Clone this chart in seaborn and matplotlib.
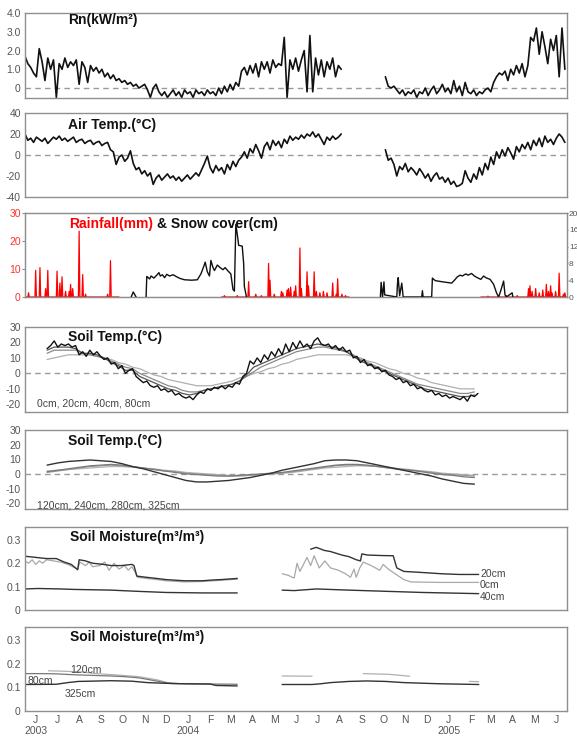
import numpy as np
import pandas as pd
import matplotlib
matplotlib.use("Agg")
import matplotlib.pyplot as plt
import matplotlib.dates as mdates
import seaborn as sns

sns.set_style("white")
plt.rcParams["font.family"] = ["Liberation Sans", "DejaVu Sans"]
plt.rcParams["axes.unicode_minus"] = False

START = pd.Timestamp("2003-06-01")
END = pd.Timestamp("2005-07-01")

# --------------------------------------------------
# data (day = days since 2003-06-01)
# --------------------------------------------------
# net radiation, one value every 4 days
rn_a_first, rn_b_first = 0, 506
rn_a = [1.7, 1.3, 1.1, 0.8, 0.6, 2.1, 1.4, 0.4, 1.6, 1.0,
        1.5, -0.5, 1.3, 1.0, 1.6, 1.1, 1.4, 1.2, 1.5, 0.2,
        1.4, 1.1, 0.3, 1.2, 0.9, 1.1, 0.8, 1.0, 0.6, 0.8,
        0.5, 0.7, 0.4, 0.5, 0.3, 0.4, 0.2, 0.3, 0.1, 0.2,
        0.0, 0.1, 0.2, -0.1, -0.5, 0.0, 0.2, -0.2, -0.4, -0.2,
        -0.5, -0.3, -0.1, -0.4, -0.2, -0.5, -0.1, -0.3, -0.2, -0.5,
        -0.1, -0.3, -0.2, -0.4, -0.1, -0.3, -0.2, -0.4, 0.0, -0.3,
        0.1, -0.2, 0.2, -0.1, 0.3, 0.1, 0.9, 1.1, 0.7, 1.2,
        0.8, 1.3, 0.6, 1.4, 1.0, 1.4, 0.8, 1.5, 1.1, 1.3,
        1.2, 2.7, -0.5, 1.5, 1.0, 1.6, 0.9, 1.5, 2.0, -0.2,
        2.8, -0.2, 1.6, 0.7, 1.5, 0.6, 1.4, 1.0, 1.6, 0.6,
        1.2, 1.0]
rn_b = [0.6, 0.1, 0.0, 0.1, -0.1, -0.3, -0.1, -0.4, -0.2, -0.3,
        -0.1, -0.5, -0.2, -0.3, 0.0, -0.4, -0.1, 0.1, -0.3, -0.1,
        0.2, -0.2, 0.0, -0.3, 0.4, -0.2, 0.1, -0.4, 0.3, -0.2,
        -0.3, -0.1, -0.4, -0.2, -0.3, -0.1, 0.0, -0.2, 0.3, 0.6,
        0.8, 0.7, 0.9, 0.4, 1.0, 0.7, 1.2, 0.8, 1.3, 0.6,
        1.2, 2.7, 2.5, 3.2, 1.8, 3.0, 2.2, 1.3, 2.6, 2.0,
        2.8, 0.6, 3.2, 1.0]

# air temperature, every 4 days
air_a = [20, 14, 16, 12, 17, 15, 13, 16, 11, 14,
         17, 15, 18, 14, 16, 13, 15, 17, 12, 14,
         15, 11, 13, 14, 10, 12, 13, 9, 11, 12,
         5, 3, -9, -2, 0, -6, -3, 4, -8, -14,
         -12, -18, -15, -20, -17, -28, -22, -19, -24, -21,
         -18, -22, -20, -24, -21, -25, -22, -19, -23, -20,
         -17, -20, -14, -8, -1, -12, -17, -10, -15, -12,
         -18, -9, -14, -6, -11, -5, -2, 3, -3, 6,
         2, 10, 4, -3, 8, 12, 5, 14, 9, 13,
         7, 15, 11, 18, 14, 17, 15, 19, 16, 20,
         18, 22, 17, 20, 15, 10, 17, 14, 18, 15, 17, 20]
air_b = [5, -5, -3, -9, -20, -11, -14, -8, -16, -12,
         -15, -19, -13, -17, -22, -18, -25, -20, -17, -23,
         -21, -26, -22, -28, -25, -30, -29, -27, -15, -22,
         -26, -18, -23, -12, -19, -8, -14, -2, -9, 3,
         -3, 5, -1, 7, 2, -4, 8, 3, 10, 6,
         12, 5, 14, 9, 16, 8, 18, 12, 15, 10,
         16, 20, 17, 12]

# rainfall (mm): daily, zero except the read spikes
rain_periods = [(0, 132), (276, 455), (640, 760)]
rain_day = [5, 15, 21, 29, 32, 45, 49, 52, 57, 62, 64, 67, 76, 81, 85, 116, 120,
            280, 298, 314, 324, 332, 342, 344, 350, 360, 362, 368, 370, 373, 378,
            380, 386, 388, 396, 398, 406, 409, 414, 419, 424, 432, 437, 439, 445, 450,
            650, 676, 691, 707, 709, 712, 717, 722, 727, 732, 735, 738, 740, 745,
            750, 756, 758]
rain_mm = [1.5, 9.5, 10.5, 3, 9.5, 9.2, 5, 7.2, 2, 2, 4.5, 3, 23.5, 8, 1, 1, 13,
           0.5, 0.5, 5.5, 1, 0.5, 12, 6, 1, 2, 1.5, 2.5, 3, 3.5, 2,
           4, 17.5, 3, 9, 4, 9, 2, 1.5, 2, 1.5, 5, 1, 6.5, 1, 0.5,
           0.3, 0.5, 0.5, 3, 4, 2, 3, 1.5, 2.5, 4.5, 2, 4, 1.5, 2,
           8.5, 1, 1.5]

# snow cover (cm)
snow_a = [(149, 0), (152, 1.2), (156, 0)]
snow_b = [(170, 0), (171, 4.9), (175, 4.3), (177, 5), (181, 4.5), (185, 5.2), (188, 5.8),
          (190, 5), (193, 5.3), (196, 4.6), (199, 5.4), (203, 5), (208, 5.3), (213, 4.8),
          (218, 4.4), (224, 4.1), (234, 4), (242, 4.1), (247, 5.5), (251, 7.3), (253, 8.3),
          (256, 6), (259, 5), (261, 8.7), (264, 7), (266, 6.3), (270, 7.6), (274, 7),
          (278, 6.5), (281, 7), (285, 6.2), (289, 5.5), (292, 1.8), (294, 1.4), (296, 17.3),
          (298, 15), (300, 12.3), (305, 12.1), (307, 8), (308, 2.5), (311, 0)]
snow_c = [(499, 0), (500, 3.5), (502, 0), (504, 3.6), (505, 0.5), (522, 0), (523, 3.2),
          (524, 4.6), (526, 0.3), (529, 3.3), (531, 0), (557, 0), (558, 1.5), (559, 0),
          (571, 0), (572, 4.5), (576, 3.9), (583, 3.7), (591, 3.5), (599, 3.3), (603, 4),
          (607, 4.8), (611, 5.2), (614, 5), (619, 5.5), (622, 5.2), (627, 5.6), (631, 5),
          (635, 4.6), (640, 4.2), (644, 5), (647, 4.6), (653, 4.2), (658, 3), (662, 1),
          (665, 0), (668, 1.5), (672, 3.8), (674, 0.5), (676, 0), (684, 1), (685, 0)]

# soil temperature 0-80 cm (0 cm every 5 days, others every 10 days from day 31)
st_first = 31
st_0 = [16, 18, 21, 17, 19, 18, 19, 17, 18, 12,
        14, 11, 15, 12, 14, 11, 9, 10, 6, 7,
        3, 5, 0, 2, 3, -2, -4, -6, -5, -8,
        -9, -8, -11, -10, -12, -11, -14, -13, -15, -16,
        -15, -17, -14, -12, -13, -10, -11, -9, -10, -8,
        -10, -8, -9, -6, -7, -2, 0, 8, 6, 10,
        7, 12, 9, 14, 11, 16, 12, 19, 14, 20,
        16, 21, 17, 19, 16, 21, 23, 19, 18, 19,
        16, 18, 15, 17, 14, 15, 10, 11, 7, 9,
        5, 6, 3, 4, 1, 2, -1, -2, -4, -3,
        -6, -5, -8, -7, -10, -9, -11, -12, -11, -14,
        -13, -15, -14, -16, -15, -16, -17, -15, -18, -14,
        -15, -13]
st_20 = [15, 17, 17, 17, 16, 13, 13, 12, 10, 7,
         5, 2, 2, -2, -4, -6, -8, -10, -11, -13,
         -14, -13, -11, -10, -9, -8, -7, -5, -1, 4,
         6, 8, 10, 12, 14, 16, 17, 18, 19, 18,
         17, 16, 14, 11, 8, 6, 4, 2, 0, -2,
         -4, -6, -8, -10, -11, -12, -13, -14, -15, -15, -14]
st_40 = [13, 15, 15, 15, 15, 13, 12, 11, 10, 8,
         6, 4, 3, 0, -2, -4, -6, -8, -9, -11,
         -12, -12, -11, -10, -9, -8, -7, -5, -2, 1,
         4, 6, 8, 10, 12, 14, 15, 16, 17, 17,
         16, 15, 14, 12, 9, 7, 5, 3, 1, -1,
         -3, -5, -7, -8, -9, -10, -11, -12, -13, -13, -12]
st_80 = [9, 10, 11, 12, 12, 12, 12, 11, 10, 9,
         7, 6, 4, 3, 1, -1, -2, -4, -5, -6,
         -7, -8, -8, -8, -7, -6, -5, -3, -2, 0,
         1, 3, 4, 6, 7, 9, 10, 11, 12, 12,
         12, 12, 12, 11, 10, 8, 7, 5, 3, 2,
         0, -1, -3, -4, -6, -7, -8, -9, -10, -10, -10]

# deep soil temperature, every 15 days from day 31
st_120 = [6, 7.5, 8.5, 9, 9.5, 9, 8.5, 7, 5, 3.5,
          1.5, -0.5, -2.5, -4.5, -5.5, -5.5, -5, -4.5, -3.5, -2.5,
          -1, 0.5, 2.5, 4, 5.5, 7, 9, 9.5, 9.5, 9,
          7.5, 6, 4.5, 3, 1.5, 0, -1.5, -3.5, -5, -6.5, -7]
st_240 = [1.5, 2.5, 3.5, 4.5, 5.5, 6, 6.5, 6, 5, 4,
          3, 2, 1, 0, -0.5, -1, -1.5, -1.5, -1, -0.5,
          0, 0.5, 1, 2, 3, 4, 5, 6, 6.5, 6.5,
          6, 5, 4, 3, 2.5, 1.5, 0.5, -0.5, -1, -2, -2.5]
st_280 = [1, 2, 3, 4, 5, 5.5, 6, 5.5, 5, 4,
          3, 2, 1.5, 0.5, 0, -0.5, -1, -1.5, -1.5, -1,
          -0.5, 0, 0.5, 1.5, 2.5, 3.5, 4.5, 5.5, 6, 6,
          5.5, 5, 4, 3.5, 2.5, 2, 1, 0, -0.5, -1, -1.5]
st_325 = [2, 2.5, 3, 3.5, 4, 4.5, 5, 5, 4.5, 4,
          3.5, 2.5, 2, 1, 0.5, 0, -0.5, -1, -1, -1,
          -0.5, 0, 0.5, 1, 2, 3, 4, 4.5, 5, 5.5,
          5.5, 5, 4.5, 3.5, 3, 2, 1.5, 0.5, 0, -0.5, -1]

# soil moisture (m3/m3), (day, value)
sm20_a = [(0, 0.23), (15, 0.225), (30, 0.22), (44, 0.22), (55, 0.205), (65, 0.195),
          (74, 0.172), (76, 0.215), (85, 0.21), (95, 0.2), (110, 0.195), (121, 0.19),
          (135, 0.19), (150, 0.195), (153, 0.19), (157, 0.145), (170, 0.14), (185, 0.135),
          (198, 0.13), (224, 0.125), (249, 0.125), (262, 0.128), (275, 0.13), (298, 0.135)]
sm0_a = [(0, 0.21), (5, 0.2), (10, 0.215), (15, 0.195), (20, 0.21), (25, 0.2), (30, 0.215),
         (40, 0.21), (50, 0.205), (60, 0.195), (74, 0.175), (77, 0.205), (85, 0.19),
         (90, 0.205), (95, 0.185), (105, 0.19), (112, 0.205), (118, 0.17), (125, 0.2),
         (132, 0.175), (140, 0.19), (145, 0.17), (150, 0.185), (155, 0.16), (158, 0.14),
         (170, 0.135), (185, 0.13), (198, 0.125), (224, 0.12), (249, 0.122), (275, 0.127),
         (298, 0.132)]
sm40_a = [(0, 0.09), (18, 0.092), (50, 0.09), (69, 0.088), (121, 0.085), (157, 0.08),
          (198, 0.075), (250, 0.073), (298, 0.073)]
sm20_b = [(401, 0.26), (409, 0.268), (420, 0.255), (429, 0.25), (445, 0.235), (455, 0.228),
          (465, 0.215), (471, 0.21), (473, 0.24), (481, 0.235), (500, 0.233), (517, 0.232),
          (522, 0.18), (532, 0.165), (560, 0.16), (585, 0.155), (610, 0.152), (637, 0.152)]
sm0_b = [(361, 0.155), (370, 0.148), (375, 0.14), (378, 0.137), (382, 0.2), (386, 0.165),
         (396, 0.225), (401, 0.19), (406, 0.232), (413, 0.18), (421, 0.21), (429, 0.18),
         (440, 0.17), (450, 0.155), (457, 0.14), (462, 0.175), (465, 0.14), (470, 0.18),
         (475, 0.205), (486, 0.19), (498, 0.17), (503, 0.195), (510, 0.175), (522, 0.15),
         (532, 0.13), (542, 0.12), (580, 0.118), (637, 0.118)]
sm40_b = [(361, 0.085), (378, 0.083), (409, 0.09), (455, 0.085), (506, 0.08), (558, 0.075),
          (637, 0.07)]

sm80_a = [(0, 0.158), (20, 0.158), (44, 0.157), (70, 0.153), (100, 0.15), (121, 0.148),
          (141, 0.145), (160, 0.14), (175, 0.132), (193, 0.122), (205, 0.116), (230, 0.115),
          (298, 0.113)]
sm120_a = [(33, 0.17), (55, 0.168), (80, 0.165), (100, 0.158), (130, 0.152), (160, 0.145),
           (185, 0.132), (200, 0.12), (215, 0.116)]
sm120_b = [(361, 0.148), (403, 0.147)]
sm120_c = [(475, 0.158), (511, 0.155), (540, 0.147)]
sm120_d = [(624, 0.125), (637, 0.124)]
sm325_a = [(0, 0.112), (44, 0.113), (60, 0.12), (75, 0.125), (121, 0.128), (150, 0.126),
           (172, 0.12), (198, 0.117), (224, 0.115), (260, 0.114), (268, 0.108), (298, 0.106)]
sm325_b = [(361, 0.112), (403, 0.112), (415, 0.115), (429, 0.12), (455, 0.125), (480, 0.127),
           (506, 0.125), (532, 0.12), (583, 0.115), (637, 0.112)]

month_letters = ["J", "J", "A", "S", "O", "N", "D", "J", "F", "M", "A", "M", "J",
                 "J", "A", "S", "O", "N", "D", "J", "F", "M", "A", "M", "J"]
year_labels = {0: "2003", 7: "2004", 19: "2005"}


def stepped(first_day, step, values):
    days = first_day + step * np.arange(len(values))
    return pd.DataFrame({"date": START + pd.to_timedelta(days, unit="D"), "v": values})


def paired(pairs):
    d = pd.DataFrame(pairs, columns=["day", "v"])
    d["date"] = START + pd.to_timedelta(d["day"], unit="D")
    return d


def line(ax, df, color, lw=1.0):
    sns.lineplot(data=df, x="date", y="v", ax=ax, color=color, linewidth=lw,
                 estimator=None, legend=False)


W, H = 577, 737
fig = plt.figure(figsize=(W / 100, H / 100), dpi=100)
boxes = [(13, 98), (113, 197), (213, 297), (327, 412), (430, 509), (527, 610), (627, 711)]
axes = [fig.add_axes([25 / W, 1 - b / H, 542 / W, (b - t) / H]) for t, b in boxes]

FRAME = "#8f8f8f"
TICKC = "#555555"


def ftext(x, y, s, **kw):
    return fig.text(x / W, 1 - y / H, s, **kw)


# 1. Rn
ax = axes[0]
line(ax, stepped(rn_a_first, 4, rn_a), "#111111", 1.2)
line(ax, stepped(rn_b_first, 4, rn_b), "#111111", 1.2)
ax.set_ylim(-0.53, 4.0)
ax.set_yticks([0, 1, 2, 3, 4])
ax.set_yticklabels(["0", "1.0", "2.0", "3.0", "4.0"])

# 2. air temperature
ax = axes[1]
line(ax, stepped(rn_a_first, 4, air_a), "#111111", 1.2)
line(ax, stepped(rn_b_first, 4, air_b), "#111111", 1.2)
ax.set_ylim(-40, 40)
ax.set_yticks([-40, -20, 0, 20, 40])

# 3. rainfall & snow
ax = axes[2]
rain = pd.Series(rain_mm, index=rain_day)
for a, b in rain_periods:
    days = np.arange(a, b + 1)
    vals = rain.reindex(days).fillna(0).to_numpy()
    line(ax, pd.DataFrame({"date": START + pd.to_timedelta(days, unit="D"), "v": vals}),
         "#ff0000", 0.9)
ax.set_ylim(0, 30)
ax.set_yticks([0, 10, 20, 30])
ax.tick_params(axis="y", labelcolor="#ff3030")
axr = ax.twinx()
for seg in (snow_a, snow_b, snow_c):
    line(axr, paired(seg), "#111111", 1.0)
axr.set_ylim(0, 20)
axr.set_yticks([0, 4, 8, 12, 16, 20])
axr.set_ylabel("")
axr.tick_params(axis="y", direction="out", length=1, labelsize=6, labelcolor=TICKC,
                color=FRAME, pad=0.5)
for s in axr.spines.values():
    s.set_color(FRAME)

# 4. soil temperature 0-80 cm
ax = axes[3]
line(ax, stepped(st_first, 10, st_80), "#b0b0b0", 0.9)
line(ax, stepped(st_first, 10, st_40), "#8a8a8a", 0.9)
line(ax, stepped(st_first, 10, st_20), "#555555", 0.9)
line(ax, stepped(st_first, 5, st_0), "#111111", 1.0)
ax.set_ylim(-25, 30)
ax.set_yticks([-20, -10, 0, 10, 20, 30])

# 5. deep soil temperature
ax = axes[4]
line(ax, stepped(st_first, 15, st_325), "#b5b5b5", 0.9)
line(ax, stepped(st_first, 15, st_280), "#9a9a9a", 0.9)
line(ax, stepped(st_first, 15, st_240), "#7a7a7a", 0.9)
line(ax, stepped(st_first, 15, st_120), "#333333", 1.0)
ax.set_ylim(-24, 30)
ax.set_yticks([-20, -10, 0, 10, 20, 30])

# 6. soil moisture 0-40 cm
ax = axes[5]
for seg in (sm0_a, sm0_b):
    line(ax, paired(seg), "#a8a8a8", 0.9)
for seg in (sm20_a, sm20_b, sm40_a, sm40_b):
    line(ax, paired(seg), "#333333", 1.0)
ax.set_ylim(0, 0.355)
ax.set_yticks([0, 0.1, 0.2, 0.3])
ax.set_yticklabels(["0", "0.1", "0.2", "0.3"])

# 7. soil moisture deep
ax = axes[6]
for seg in (sm120_a, sm120_b, sm120_c, sm120_d):
    line(ax, paired(seg), "#b0b0b0", 0.9)
line(ax, paired(sm80_a), "#777777", 0.9)
for seg in (sm325_a, sm325_b):
    line(ax, paired(seg), "#333333", 1.0)
ax.set_ylim(0, 0.355)
ax.set_yticks([0, 0.1, 0.2, 0.3])
ax.set_yticklabels(["0", "0.1", "0.2", "0.3"])

# common axis styling
month_starts = pd.date_range(START, END, freq="MS")
month_mids = month_starts[:-1] + pd.Timedelta(days=15)
for i, ax in enumerate(axes):
    ax.set_xlim(START, END)
    ax.set_xlabel("")
    ax.set_ylabel("")
    ax.set_xticks(mdates.date2num(month_starts))
    ax.tick_params(axis="x", which="major", direction="in", length=3, color=FRAME,
                   labelbottom=False)
    ax.tick_params(axis="y", direction="out", length=2, color=FRAME, labelsize=7.5, pad=1)
    if i != 2:
        ax.tick_params(axis="y", labelcolor=TICKC)
    for s in ax.spines.values():
        s.set_color(FRAME)
        s.set_linewidth(1.0)
    if i in (0, 1, 3, 4):
        ax.axhline(0, color="#9a9a9a", lw=1.0, ls=(0, (4, 3)), zorder=0)

bottom = axes[6]
labels = [m + ("\n" + year_labels[i] if i in year_labels else "")
          for i, m in enumerate(month_letters)]
bottom.set_xticks(mdates.date2num(month_mids), minor=True)
bottom.set_xticklabels(labels, minor=True)
bottom.tick_params(axis="x", which="minor", length=0, labelsize=7.5, labelcolor=TICKC,
                   pad=3)
for t in bottom.get_xticklabels(minor=True):
    t.set_linespacing(1.15)

# panel titles
bold = dict(fontsize=10, fontweight="bold", va="center", ha="left", color="#111111")
ftext(68, 20, "Rn(kW/m²)", **bold)
ftext(68, 125, "Air Temp.(°C)", **bold)
t1 = ftext(69, 224, "Rainfall(mm)", **dict(bold, color="#ff0000"))
fig.canvas.draw()
bb = t1.get_window_extent()
fig.text(bb.x1 / W + 4 / W, 1 - 224 / H, "& Snow cover(cm)", **bold)
ftext(68, 337, "Soil Temp.(°C)", **bold)
ftext(68, 441, "Soil Temp.(°C)", **bold)
ftext(70, 537, "Soil Moisture(m³/m³)", **bold)
ftext(70, 637, "Soil Moisture(m³/m³)", **bold)

small = dict(fontsize=7.5, va="center", ha="left", color="#444444")
ftext(37, 404, "0cm, 20cm, 40cm, 80cm", **small)
ftext(37, 505, "120cm, 240cm, 280cm, 325cm", **small)
ftext(480, 574, "20cm", **small)
ftext(480, 585, "0cm", **small)
ftext(480, 597, "40cm", **small)
ftext(70, 670, "120cm", **small)
ftext(27, 681, "80cm", **small)
ftext(65, 694, "325cm", **small)

fig.savefig("out.png", dpi=100, facecolor="white")
